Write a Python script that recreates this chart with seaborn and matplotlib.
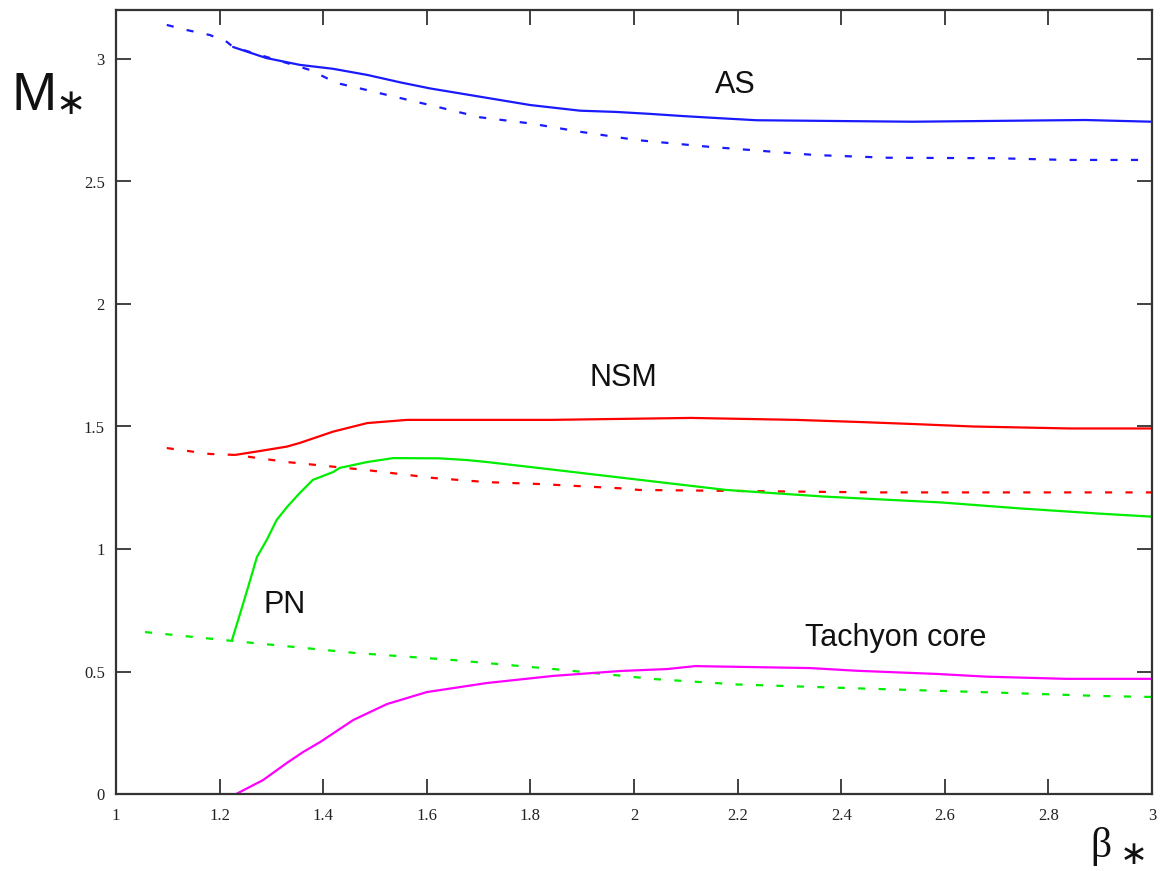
import matplotlib
matplotlib.use("Agg")
import matplotlib.pyplot as plt
import seaborn as sns
import pandas as pd

# ---- data ----
as_solid_x = [1.226, 1.29, 1.355, 1.419, 1.485, 1.548, 1.606, 1.703, 1.80, 1.896, 1.965, 2.031, 2.095, 2.16, 2.237, 2.537, 2.871, 3.0]
as_solid_y = [3.049, 3.004, 2.976, 2.960, 2.935, 2.905, 2.880, 2.846, 2.812, 2.789, 2.784, 2.776, 2.767, 2.759, 2.750, 2.744, 2.751, 2.744]

as_dash_x = [1.098, 1.137, 1.181, 1.214, 1.226, 1.323, 1.375, 1.426, 1.485, 1.51, 1.606, 1.703, 1.80, 1.896, 2.006, 2.143, 2.35, 2.49, 2.70, 2.835, 3.0]
as_dash_y = [3.139, 3.118, 3.098, 3.070, 3.049, 2.988, 2.955, 2.902, 2.873, 2.860, 2.812, 2.762, 2.737, 2.703, 2.669, 2.642, 2.608, 2.597, 2.595, 2.588, 2.588]

nsm_solid_x = [1.23, 1.278, 1.33, 1.355, 1.419, 1.485, 1.562, 1.838, 2.11, 2.313, 2.44, 2.54, 2.655, 2.84, 3.0]
nsm_solid_y = [1.384, 1.400, 1.418, 1.433, 1.479, 1.514, 1.527, 1.527, 1.535, 1.527, 1.518, 1.510, 1.500, 1.492, 1.492]

nsm_dash_x = [1.098, 1.18, 1.23, 1.33, 1.485, 1.612, 1.716, 1.82, 1.98, 2.01, 2.465, 3.0]
nsm_dash_y = [1.412, 1.388, 1.384, 1.355, 1.322, 1.290, 1.273, 1.265, 1.247, 1.241, 1.231, 1.231]

pn_solid_x = [1.224, 1.24, 1.259, 1.272, 1.291, 1.31, 1.33, 1.355, 1.38, 1.419, 1.432, 1.485, 1.535, 1.625, 1.678, 1.716, 1.819, 1.988, 2.178, 2.367, 2.593, 2.743, 2.894, 3.0]
pn_solid_y = [0.629, 0.739, 0.873, 0.967, 1.037, 1.118, 1.171, 1.229, 1.282, 1.314, 1.331, 1.355, 1.371, 1.370, 1.363, 1.355, 1.330, 1.288, 1.241, 1.214, 1.190, 1.166, 1.145, 1.132]

pn_dash_x = [1.056, 1.224, 1.46, 1.65, 1.845, 2.04, 2.20, 2.45, 2.70, 2.90, 3.0]
pn_dash_y = [0.661, 0.625, 0.576, 0.547, 0.510, 0.469, 0.447, 0.430, 0.414, 0.400, 0.396]

tc_x = [1.232, 1.284, 1.33, 1.361, 1.394, 1.458, 1.523, 1.60, 1.716, 1.844, 1.973, 2.064, 2.118, 2.34, 2.43, 2.585, 2.68, 2.834, 3.0]
tc_y = [0.0, 0.057, 0.127, 0.171, 0.212, 0.302, 0.367, 0.416, 0.453, 0.482, 0.502, 0.510, 0.522, 0.514, 0.503, 0.490, 0.479, 0.470, 0.470]

x_ticks = [1, 1.2, 1.4, 1.6, 1.8, 2, 2.2, 2.4, 2.6, 2.8, 3]
x_tick_labels = ["1", "1.2", "1.4", "1.6", "1.8", "2", "2.2", "2.4", "2.6", "2.8", "3"]
y_ticks = [0, 0.5, 1, 1.5, 2, 2.5, 3]
y_tick_labels = ["0", "0.5", "1", "1.5", "2", "2.5", "3"]

labels = ["AS", "NSM", "PN", "Tachyon core"]
label_x = [2.195, 1.979, 1.326, 2.506]
label_y = [2.894, 1.698, 0.771, 0.637]

BLUE = "#1a1aff"
RED = "#ff0000"
GREEN = "#00ee00"
MAGENTA = "#ff00ff"
DASH = (0, (3.2, 6.0))

sns.set_style("white")
plt.rcParams["font.family"] = ["Liberation Sans", "DejaVu Sans"]

fig = plt.figure(figsize=(11.68, 8.71), dpi=100)
ax = fig.add_axes([116 / 1168, 77 / 871, (1152 - 116) / 1168, (794 - 10) / 871])

series = [
    (as_solid_x, as_solid_y, BLUE, "-"),
    (as_dash_x, as_dash_y, BLUE, DASH),
    (nsm_solid_x, nsm_solid_y, RED, "-"),
    (nsm_dash_x, nsm_dash_y, RED, DASH),
    (pn_solid_x, pn_solid_y, GREEN, "-"),
    (pn_dash_x, pn_dash_y, GREEN, DASH),
    (tc_x, tc_y, MAGENTA, "-"),
]
for xs, ys, col, ls in series:
    df = pd.DataFrame({"b": xs, "m": ys})
    sns.lineplot(data=df, x="b", y="m", ax=ax, color=col, linestyle=ls,
                 linewidth=1.6, sort=False, estimator=None)

ax.set_xlim(1, 3)
ax.set_ylim(0, 3.2)
ax.set_xticks(x_ticks)
ax.set_xticklabels(x_tick_labels)
ax.set_yticks(y_ticks)
ax.set_yticklabels(y_tick_labels)
ax.set_xlabel("")
ax.set_ylabel("")
ax.tick_params(direction="in", length=11, width=1.3, color="#333333",
               top=True, right=True, bottom=True, left=True,
               labelsize=12, pad=8)
ax.tick_params(axis="x", pad=10)
for lab in ax.get_xticklabels() + ax.get_yticklabels():
    lab.set_family("Liberation Serif")
    lab.set_color("#222222")
for sp in ax.spines.values():
    sp.set_visible(True)
    sp.set_color("#333333")
    sp.set_linewidth(1.6)

for t, lx, ly in zip(labels, label_x, label_y):
    ax.text(lx, ly, t, ha="center", va="center", fontsize=22, color="#111111")

fig.text(11 / 1168, 1 - 110 / 871, "M", fontsize=39, color="#111111",
         ha="left", va="baseline")
fig.text(71 / 1168, 1 - 104 / 871, "\u2217", fontsize=26, color="#111111",
         ha="center", va="center")
fig.text(1090 / 1168, 1 - 857 / 871, "\u03b2", fontsize=30, color="#111111",
         ha="left", va="baseline", family="Liberation Serif")
fig.text(1134 / 1168, 1 - 855 / 871, "\u2217", fontsize=24, color="#111111",
         ha="center", va="center")

fig.savefig("out.png", dpi=100)
